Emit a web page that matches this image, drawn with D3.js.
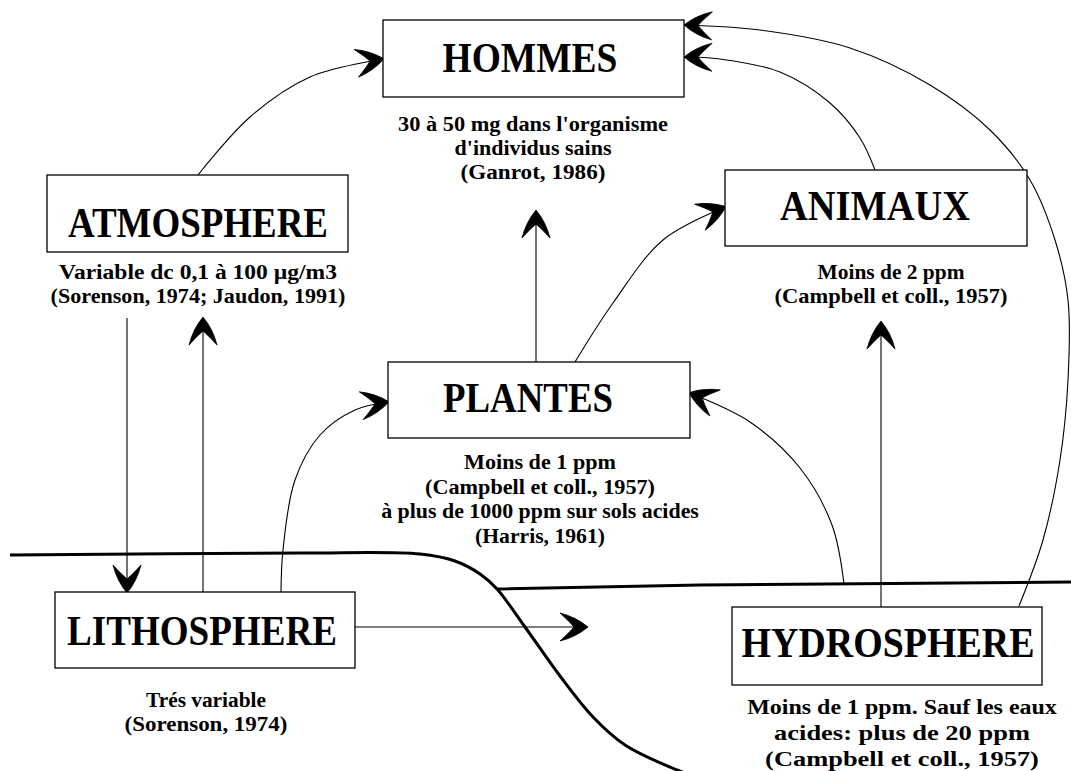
<!DOCTYPE html>
<html>
<head>
<meta charset="utf-8">
<script src="https://cdn.jsdelivr.net/npm/d3@7"></script>
<style>
    body { margin: 0; background: #fff; }
    svg { display: block; }
</style>
</head>
<body>
<div id="cycle_viz"></div>
<script>
// Compartments and their notes
const nodeNames = ["HOMMES", "ATMOSPHERE", "ANIMAUX", "PLANTES", "LITHOSPHERE", "HYDROSPHERE"];
const nodeNotes = [
    ["30 à 50 mg dans l'organisme", "d'individus sains", "(Ganrot, 1986)"],
    ["Variable dc 0,1 à 100 µg/m3", "(Sorenson, 1974; Jaudon, 1991)"],
    ["Moins de 2 ppm", "(Campbell et coll.,  1957)"],
    ["Moins de 1 ppm", "(Campbell et coll., 1957)", "à plus de 1000 ppm sur sols acides", "(Harris, 1961)"],
    ["Trés variable", "(Sorenson, 1974)"],
    ["Moins de 1 ppm. Sauf les eaux", "acides: plus de 20 ppm", "(Campbell et coll., 1957)"],
];

// Layout of boxes [x0, y0, x1, y1]
const boxes = [
    [383, 20, 684, 97],
    [47, 175, 348, 252],
    [725, 170, 1027, 246],
    [388, 362, 690, 438],
    [55, 592, 355, 668],
    [732, 607, 1042, 685],
];
// Title [centre x, baseline, width]
const titles = [
    [530, 72, 175],
    [198, 237, 260],
    [875, 220, 190],
    [528, 412, 170],
    [202, 645, 270],
    [888, 657, 293],
];
// Notes [centre x, first baseline, line step] and line widths
const notes = [
    [533, 131, 24],
    [198, 279, 24],
    [891, 279, 24],
    [540, 469, 24.7],
    [206, 707, 24],
    [902, 714, 26],
];
const noteWidths = [
    [270, 157, 145],
    [278, 295],
    [147, 233],
    [152, 230, 318, 130],
    [120, 163],
    [310, 256, 274],
];

// Flows between compartments (points along each arrow, end = tip)
const flows = [
    [[198, 175], [250, 117], [310, 77], [383, 59]],
    [[875, 170], [860, 138], [830, 103], [780, 72], [720, 59], [685, 57]],
    [[1019, 606], [1043, 540], [1060, 460], [1068, 380], [1068, 300], [1055, 240], [1030, 180], [990, 130], [930, 85], [850, 48], [760, 30], [685, 25]],
    [[536, 362], [536, 211]],
    [[575, 362], [613, 303], [663, 240], [725, 207]],
    [[127, 318], [127, 592]],
    [[203, 592], [203, 318]],
    [[281, 592], [283, 550], [295, 480], [320, 435], [355, 410], [388, 402]],
    [[355, 627], [587, 627]],
    [[844, 584], [832, 525], [800, 468], [750, 422], [690, 393]],
    [[881, 607], [881, 322]],
];

// Ground and water surfaces
const groundLine = [[10, 555], [300, 553], [420, 554], [455, 561], [480, 574], [497, 589], [525, 627], [560, 676], [593, 717], [625, 745], [677, 770], [700, 778]];
const waterLine = [[497, 589], [700, 585], [1071, 582]];

// Set up dimensions
let dimensions = {
    width: 1071,
    height: 771,
}

// Set up scales
const xScale = d3.scaleLinear()
    .domain([0, 1071])
    .range([0, dimensions.width]);

const yScale = d3.scaleLinear()
    .domain([0, 771])
    .range([0, dimensions.height]);

const curveLine = d3.line()
    .x(d => xScale(d[0]))
    .y(d => yScale(d[1]))
    .curve(d3.curveCatmullRom.alpha(0.5));

const straightLine = d3.line()
    .x(d => xScale(d[0]))
    .y(d => yScale(d[1]));

// Squeeze a centred text horizontally to the wanted width
function fitText(sel, cx, y, width) {
    const w = sel.node().getComputedTextLength();
    sel.attr("transform", `translate(${cx}, ${y}) scale(${width / w}, 1)`);
}

function drawCycle() {

    const svg = d3.select("#cycle_viz")
        .append("svg")
            .attr("width", dimensions.width)
            .attr("height", dimensions.height)

    // Arrow head
    svg.append("defs")
        .append("marker")
            .attr("id", "head")
            .attr("markerUnits", "userSpaceOnUse")
            .attr("viewBox", "-30 -16 32 32")
            .attr("refX", 0)
            .attr("refY", 0)
            .attr("markerWidth", 32)
            .attr("markerHeight", 32)
            .attr("orient", "auto")
        .append("path")
            .attr("d", "M1,0 Q-11,-10 -27,-14 Q-18,-6 -13,0 Q-18,6 -27,14 Q-11,10 1,0 Z")
            .attr("fill", "#000")
            .attr("stroke", "#000")
            .attr("stroke-width", 0.8)
            .attr("stroke-linejoin", "round");

    // Ground and water
    svg.append("path")
        .attr("d", curveLine(groundLine))
        .attr("fill", "none")
        .attr("stroke", "#000")
        .attr("stroke-width", 3);

    svg.append("path")
        .attr("d", straightLine(waterLine))
        .attr("fill", "none")
        .attr("stroke", "#000")
        .attr("stroke-width", 3);

    // Flows
    svg.append("g")
        .selectAll("path")
        .data(flows)
        .join("path")
            .attr("d", d => d.length > 2 ? curveLine(d) : straightLine(d))
            .attr("fill", "none")
            .attr("stroke", "#000")
            .attr("stroke-width", 1.1)
            .attr("marker-end", "url(#head)");

    // Boxes
    const nodes = svg.append("g")
        .selectAll("g")
        .data(nodeNames)
        .join("g");

    nodes.append("rect")
        .attr("x", (d, i) => xScale(boxes[i][0]))
        .attr("y", (d, i) => yScale(boxes[i][1]))
        .attr("width", (d, i) => xScale(boxes[i][2]) - xScale(boxes[i][0]))
        .attr("height", (d, i) => yScale(boxes[i][3]) - yScale(boxes[i][1]))
        .attr("fill", "#fff")
        .attr("stroke", "#000")
        .attr("stroke-width", 1.3);

    nodes.each(function(d, i) {
        const g = d3.select(this);

        const title = g.append("text")
            .attr("text-anchor", "middle")
            .style("font-family", "'Liberation Serif', 'Times New Roman', serif")
            .style("font-weight", 700)
            .style("font-size", "43px")
            .text(d);
        fitText(title, xScale(titles[i][0]), yScale(titles[i][1]), titles[i][2]);

        // Notes under each box
        nodeNotes[i].forEach((t, j) => {
            const note = g.append("text")
                .attr("class", "note")
                .attr("text-anchor", "middle")
                .style("font-family", "'Liberation Serif', 'Times New Roman', serif")
                .style("font-weight", 700)
                .style("font-size", "22px")
                .text(t);
            fitText(note, xScale(notes[i][0]), yScale(notes[i][1] + j * notes[i][2]), noteWidths[i][j]);
        });
    });
}

drawCycle();
</script>
</body>
</html>
